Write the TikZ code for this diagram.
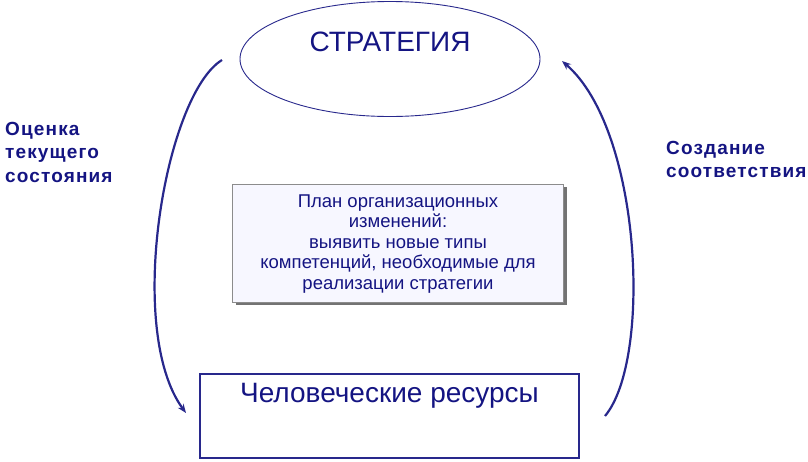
\documentclass[tikz,border=0pt]{standalone}
\usepackage{fontspec}
\setmainfont{Liberation Sans}
\newfontfamily\lblfont[LetterSpace=6]{Liberation Sans}
\usetikzlibrary{shapes.geometric,arrows.meta,shadows}
\definecolor{navy}{RGB}{20,20,130}
\definecolor{edgeblue}{RGB}{40,40,140}
\begin{document}
\begin{tikzpicture}[x=1pt,y=-1pt,
  lbl/.style={text=navy,font=\lblfont\fontsize{19}{23.5}\selectfont\bfseries,align=left,anchor=north west,inner sep=0pt},
  flow/.style={draw=edgeblue,line width=2.2pt,-{Stealth[length=9pt,width=7pt]}},
  oval/.style={ellipse,draw=edgeblue,line width=0.9pt,minimum width=300pt,minimum height=115pt,inner sep=0pt},
  planbox/.style={rectangle,draw=black!45,fill=blue!3,line width=0.6pt,minimum width=331pt,minimum height=118pt,drop shadow={shadow xshift=3pt,shadow yshift=-3pt,fill=black!55,opacity=1}},
  hrbox/.style={rectangle,draw=edgeblue,line width=1.2pt,minimum width=379pt,minimum height=84pt},
  txt/.style={text=navy,inner sep=0pt}]
\useasboundingbox (0,0) rectangle (808,461);
\node[oval] (strat) at (390,59) {};
\node[txt,font=\fontsize{28}{32}\selectfont] (strattxt) at (390,42) {СТРАТЕГИЯ};
\node[planbox] (plan) at (398,243) {};
\node[txt,align=center,font=\fontsize{18.5}{20.5}\selectfont] (plantxt) at (398,244) {План организационных\\изменений:\\выявить новые типы\\компетенций, необходимые для\\реализации стратегии};
\node[hrbox] (hr) at (389.5,416) {};
\node[txt,font=\fontsize{28}{32}\selectfont] (hrtxt) at (389.5,396) {Человеческие ресурсы};
\node[lbl] (left) at (5,122) {Оценка\\текущего\\состояния};
\node[lbl] (right) at (666,141) {Создание\\соответствия};
\coordinate (ls) at (222,60);
\coordinate (le) at (186,413);
\coordinate (rs) at (605,416);
\coordinate (re) at (562,61);
\draw[flow] (ls) .. controls (165,95) and (125,330) .. (le);
\draw[flow] (rs) .. controls (652,360) and (642,130) .. (re);
\end{tikzpicture}
\end{document}
